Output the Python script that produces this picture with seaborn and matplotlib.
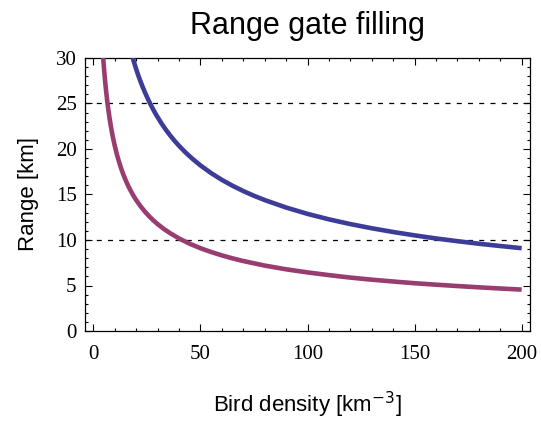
import numpy as np
import pandas as pd
import matplotlib
matplotlib.use("Agg")
import matplotlib.pyplot as plt
from matplotlib.ticker import MultipleLocator
import seaborn as sns

# Range needed for gate filling vs. bird density (two gate configurations)
density_wide = [18, 19, 20, 21, 22, 23, 24, 25, 26, 27, 28, 29, 30, 32, 34, 36, 38, 40,
                43, 46, 50, 55, 60, 65, 70, 75, 80, 90, 100, 110, 120, 130, 140, 150,
                160, 170, 180, 190, 200]
range_wide = [30.33, 29.53, 28.78, 28.08, 27.44, 26.84, 26.27, 25.74, 25.24, 24.77,
              24.32, 23.90, 23.50, 22.75, 22.07, 21.45, 20.88, 20.35, 19.63, 18.98,
              18.20, 17.35, 16.61, 15.96, 15.38, 14.86, 14.39, 13.57, 12.87, 12.27,
              11.75, 11.29, 10.88, 10.51, 10.17, 9.87, 9.59, 9.34, 9.10]

density_narrow = [4.5, 4.75, 5, 5.25, 5.5, 5.75, 6, 6.5, 7, 7.5, 8, 8.5, 9, 9.5, 10, 11,
                  12, 13, 14, 15, 16, 17, 18, 19, 20, 22, 24, 26, 28, 30, 33, 36, 40,
                  45, 50, 55, 60, 65, 70, 80, 90, 100, 110, 120, 130, 140, 150, 160,
                  170, 180, 190, 200]
range_narrow = [30.33, 29.53, 28.78, 28.08, 27.44, 26.84, 26.27, 25.24, 24.32, 23.50,
                22.75, 22.07, 21.45, 20.88, 20.35, 19.40, 18.58, 17.85, 17.20, 16.62,
                16.09, 15.61, 15.17, 14.76, 14.39, 13.72, 13.14, 12.62, 12.16, 11.75,
                11.20, 10.73, 10.17, 9.59, 9.10, 8.68, 8.31, 7.98, 7.69, 7.19, 6.78,
                6.44, 6.14, 5.87, 5.64, 5.44, 5.25, 5.09, 4.94, 4.80, 4.67, 4.55]

reference_ranges = [25, 10]

df = pd.concat([
    pd.DataFrame({"density": density_wide, "range": range_wide, "gate": "wide"}),
    pd.DataFrame({"density": density_narrow, "range": range_narrow, "gate": "narrow"}),
], ignore_index=True)

sns.set_theme(style="white")
fig = plt.figure(figsize=(5.41, 4.21), dpi=100)
ax = fig.add_axes([85 / 541, 1 - 331 / 421, 445 / 541, 273 / 421])

for r in reference_ranges:
    ax.axhline(r, color="black", lw=0.9, ls=(0, (4, 5)), zorder=1)

sns.lineplot(data=df, x="density", y="range", hue="gate", sort=True,
             palette={"wide": "#3d3d99", "narrow": "#993d71"},
             lw=3.3, legend=False, ax=ax, zorder=3)
for line in ax.get_lines():
    line.set_solid_joinstyle("round")
    line.set_solid_capstyle("butt")

ax.set_xlim(-3.9, 203.9)
ax.set_ylim(0, 30)

ax.xaxis.set_major_locator(MultipleLocator(50))
ax.xaxis.set_minor_locator(MultipleLocator(10))
ax.yaxis.set_major_locator(MultipleLocator(5))
ax.yaxis.set_minor_locator(MultipleLocator(1))
ax.tick_params(which="both", direction="in", top=True, right=True,
               bottom=True, left=True, color="black", width=0.8)
ax.tick_params(which="major", length=5, labelsize=15)
ax.tick_params(which="minor", length=2.5)
ax.tick_params(axis="x", which="major", pad=10)
ax.tick_params(axis="y", which="major", pad=6)
for lbl in ax.get_xticklabels() + ax.get_yticklabels():
    lbl.set_fontfamily("Liberation Serif")
    lbl.set_color("black")

for s in ax.spines.values():
    s.set_color("black")
    s.set_linewidth(0.9)

ax.set_xlabel("Bird density [km$^{-3}$]", fontsize=16, family="Liberation Sans",
              labelpad=19, color="black")
ax.set_ylabel("Range [km]", fontsize=16, family="Liberation Sans",
              labelpad=12, color="black")
ax.set_title("Range gate filling", fontsize=22, family="Liberation Sans",
             pad=17, color="black")

fig.savefig("out.png", dpi=100)
